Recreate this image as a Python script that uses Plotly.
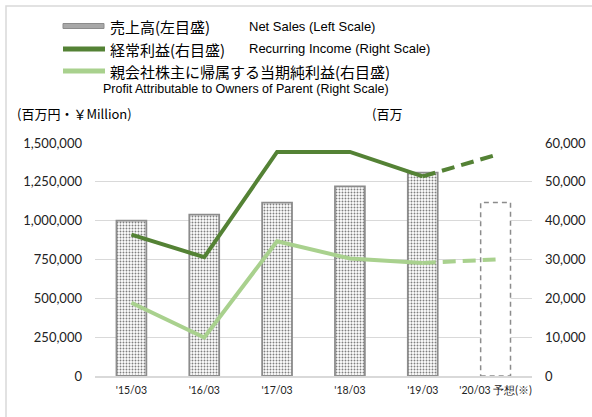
import plotly.graph_objects as go

# ---- data ----
categories = ["'15/03", "'16/03", "'17/03", "'18/03", "'19/03", "'20/03 予想(※)"]
net_sales = [1000000, 1039000, 1116000, 1221000, 1309000]
net_sales_forecast = 1117000
recurring_income = [36400, 30600, 57700, 57700, 51400]
recurring_income_forecast = 56900
net_profit = [18850, 9900, 34700, 30250, 29130]
net_profit_forecast = 30000

left_ticks = [0, 250000, 500000, 750000, 1000000, 1250000, 1500000]
right_ticks = [0, 10000, 20000, 30000, 40000, 50000, 60000]

legend_jp = ["売上高(左目盛)", "経常利益(右目盛)", "親会社株主に帰属する当期純利益(右目盛)"]
legend_en = ["Net Sales (Left Scale)", "Recurring Income (Right Scale)",
             "Profit Attributable to Owners of Parent (Right Scale)"]
unit_left = "(百万円・￥Million)"
unit_right = "(百万"

# ---- style ----
W, H = 592, 417
ML, MR, MT, MB = 95, 60, 143, 41
PW, PH = W - ML - MR, H - MT - MB
DARK = "#548235"
LIGHT = "#A9D18E"
GRID = "#d9d9d9"
BAR_W = 0.41
JP_FONT = "Noto Sans CJK JP"
EN_FONT = "Liberation Sans"
NUM_FONT = "Lato"


def px(x):
    return (x - ML) / PW


def py(y):
    return (H - MB - y) / PH


fig = go.Figure()

fig.add_trace(go.Bar(
    x=categories[:5], y=net_sales, width=BAR_W, yaxis="y",
    marker=dict(color="white",
                pattern=dict(shape=".", fgcolor="#000000", bgcolor="white",
                             size=3, solidity=0.32),
                line=dict(color="#8c8c8c", width=1.8)),
    showlegend=False, hoverinfo="skip"))
fig.add_trace(go.Bar(
    x=categories[5:], y=[net_sales_forecast], width=BAR_W, yaxis="y",
    marker=dict(color="white", line=dict(width=0)),
    showlegend=False, hoverinfo="skip"))

fig.add_trace(go.Scatter(
    x=categories[:5], y=recurring_income, yaxis="y2", mode="lines",
    line=dict(color=DARK, width=4), showlegend=False, hoverinfo="skip"))
fig.add_trace(go.Scatter(
    x=categories[4:], y=[recurring_income[-1], recurring_income_forecast], yaxis="y2",
    mode="lines", line=dict(color=DARK, width=4, dash="13px,7px"),
    showlegend=False, hoverinfo="skip"))
fig.add_trace(go.Scatter(
    x=categories[:5], y=net_profit, yaxis="y2", mode="lines",
    line=dict(color=LIGHT, width=4), showlegend=False, hoverinfo="skip"))
fig.add_trace(go.Scatter(
    x=categories[4:], y=[net_profit[-1], net_profit_forecast], yaxis="y2",
    mode="lines", line=dict(color=LIGHT, width=4, dash="13px,7px"),
    showlegend=False, hoverinfo="skip"))

shapes = [
    # dashed outline of the forecast bar
    dict(type="rect", xref="x", yref="y", x0=5 - BAR_W / 2, x1=5 + BAR_W / 2,
         y0=0, y1=net_sales_forecast, line=dict(color="#8c8c8c", width=1.5, dash="5px,4px"),
         fillcolor="rgba(0,0,0,0)", layer="above"),
    # outer chart border
    dict(type="rect", xref="paper", yref="paper", x0=px(6), x1=px(W + 10),
         y0=py(H + 10), y1=py(6), line=dict(color="#d9d9d9", width=1.5), layer="below"),
    # legend swatches
    dict(type="rect", xref="paper", yref="paper", x0=px(63), x1=px(104),
         y0=py(28.5), y1=py(23.5), line=dict(color="#8c8c8c", width=1),
         fillcolor="#a8a8a8"),
    dict(type="line", xref="paper", yref="paper", x0=px(63), x1=px(105),
         y0=py(49), y1=py(49), line=dict(color=DARK, width=5)),
    dict(type="line", xref="paper", yref="paper", x0=px(63), x1=px(105),
         y0=py(71), y1=py(71), line=dict(color=LIGHT, width=5)),
]

annotations = []
for txt, yy in zip(legend_jp, [26, 49, 71]):
    annotations.append(dict(text=txt, xref="paper", yref="paper", x=px(108), y=py(yy),
                            xanchor="left", yanchor="middle", showarrow=False,
                            font=dict(family=JP_FONT, size=15, color="#000")))
for txt, xx, yy, fs in zip(legend_en, [247, 247, 101], [26, 48, 89], [13, 13, 12.5]):
    annotations.append(dict(text=txt, xref="paper", yref="paper", x=px(xx), y=py(yy),
                            xanchor="left", yanchor="middle", showarrow=False,
                            font=dict(family=EN_FONT, size=fs, color="#000")))
annotations.append(dict(text=unit_left, xref="paper", yref="paper", x=px(15), y=py(113),
                        xanchor="left", yanchor="middle", showarrow=False,
                        font=dict(family=JP_FONT, size=13, color="#000")))
annotations.append(dict(text=unit_right, xref="paper", yref="paper", x=px(370), y=py(113),
                        xanchor="left", yanchor="middle", showarrow=False,
                        font=dict(family=JP_FONT, size=13, color="#000")))

fig.update_layout(
    width=W, height=H,
    margin=dict(l=ML, r=MR, t=MT, b=MB, pad=0, autoexpand=False),
    paper_bgcolor="white", plot_bgcolor="white",
    barmode="overlay", showlegend=False,
    shapes=shapes, annotations=annotations,
    xaxis=dict(type="category", categoryorder="array", categoryarray=categories,
               showgrid=False, showline=True, linecolor=GRID, linewidth=1.5,
               ticks="", tickfont=dict(family=NUM_FONT, size=10.5, color="#222"),
               ticklabelstandoff=4, range=[-0.5, 5.5], automargin=False),
    yaxis=dict(range=[0, 1500000], tickvals=left_ticks,
               ticktext=[f"{v:,}" for v in left_ticks],
               showgrid=True, gridcolor=GRID, gridwidth=1, zeroline=False,
               ticks="", tickfont=dict(family=NUM_FONT, size=13, color="#222"),
               ticklabelstandoff=12, automargin=False),
    yaxis2=dict(range=[0, 60000], tickvals=right_ticks,
                ticktext=[f"{v:,}" for v in right_ticks],
                overlaying="y", side="right", showgrid=False, zeroline=False,
                ticks="", tickfont=dict(family=NUM_FONT, size=13, color="#222"),
                ticklabelstandoff=12, automargin=False),
)

fig.write_html("out.html", config={"displayModeBar": False},
               post_script="document.body.style.margin='0px';document.body.style.padding='0px';")
